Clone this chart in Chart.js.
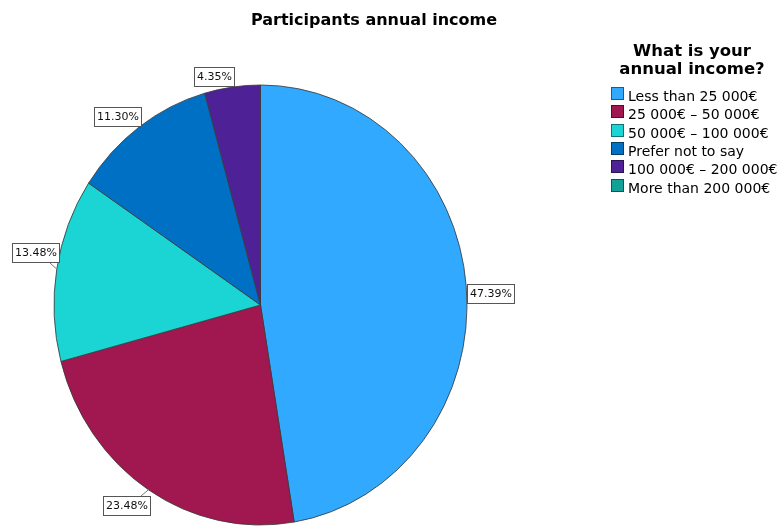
<!DOCTYPE html>
<html>
<head>
<meta charset="utf-8">
<script src="https://cdn.jsdelivr.net/npm/chart.js@4.4.0/dist/chart.umd.min.js"></script>
<style>
  body { margin: 0; background: #fff; }
  canvas { display: block; }
</style>
</head>
<body>
<canvas id="chart" width="781" height="526"></canvas>
<script>
const chartTitle = 'Participants annual income';
const legendTitle = ['What is your', 'annual income?'];
const incomeGroups = ['Less than 25 000€', '25 000€ – 50 000€', '50 000€ – 100 000€', 'Prefer not to say', '100 000€ – 200 000€', 'More than 200 000€'];
const respondents = [109, 54, 31, 26, 10, 0];
const groupColors = ['#30a9fe', '#a1174f', '#1bd4d4', '#0070c4', '#4f2196', '#13a098'];

const FONT = '"DejaVu Sans", sans-serif';
// the pie is drawn a bit taller than wide
const Y_STRETCH = 220 / 206.5;

const stretchPie = {
  id: 'stretchPie',
  beforeDatasetsDraw(chart) {
    const arc = chart.getDatasetMeta(0).data[0];
    const ctx = chart.ctx;
    ctx.save();
    ctx.translate(arc.x, arc.y);
    ctx.scale(1, Y_STRETCH);
    ctx.translate(-arc.x, -arc.y);
  },
  afterDatasetsDraw(chart) {
    chart.ctx.restore();
  }
};

// boxed percentage next to each slice
const sliceLabels = {
  id: 'sliceLabels',
  afterDraw(chart) {
    const ctx = chart.ctx;
    const meta = chart.getDatasetMeta(0);
    const total = respondents.reduce((a, b) => a + b, 0);
    ctx.save();
    ctx.font = '11px ' + FONT;
    ctx.textBaseline = 'middle';
    ctx.textAlign = 'left';
    ctx.lineWidth = 1;
    meta.data.forEach((arc, i) => {
      const value = respondents[i];
      if (!value) return;
      const mid = (arc.startAngle + arc.endAngle) / 2;
      const cos = Math.cos(mid), sin = Math.sin(mid);
      const px = arc.x + arc.outerRadius * cos;
      const py = arc.y + arc.outerRadius * Y_STRETCH * sin;
      const text = (value / total * 100).toFixed(2) + '%';
      const w = Math.round(ctx.measureText(text).width + 6);
      const h = 20;
      const bx = Math.round(cos >= 0 ? px + 1 : px - w + 3);
      let by, edgeY = null;
      if (Math.abs(sin) < 0.15) {
        by = Math.round(py - 3);
      } else if (sin < -0.5) {
        by = Math.round(py - h);
      } else if (sin < 0) {
        by = Math.round(py - h - 6);
        edgeY = by + h;
      } else {
        by = Math.round(py + 6);
        edgeY = by;
      }

      if (edgeY !== null) {
        ctx.strokeStyle = '#777';
        ctx.beginPath();
        ctx.moveTo(px, py);
        ctx.lineTo(cos >= 0 ? bx + 10 : bx + w - 10, edgeY);
        ctx.stroke();
      }
      ctx.fillStyle = '#fff';
      ctx.fillRect(bx, by, w, h);
      ctx.strokeStyle = '#555';
      ctx.strokeRect(bx + 0.5, by + 0.5, w - 1, h - 1);
      ctx.fillStyle = '#111';
      ctx.fillText(text, bx + 3, by + h / 2 + 0.5);
    });
    ctx.restore();
  }
};

// chart title and legend on the right
const titleAndLegend = {
  id: 'titleAndLegend',
  afterDraw(chart) {
    const ctx = chart.ctx;
    const colors = chart.data.datasets[0].backgroundColor;
    ctx.save();
    ctx.fillStyle = '#000';
    ctx.textBaseline = 'alphabetic';
    ctx.textAlign = 'center';
    ctx.font = 'bold 16px ' + FONT;
    ctx.fillText(chartTitle, 374, 25);

    ctx.font = 'bold 16.5px ' + FONT;
    legendTitle.forEach((line, i) => ctx.fillText(line, 692, 56 + i * 17.5));

    ctx.textAlign = 'left';
    ctx.font = '14px ' + FONT;
    ctx.lineWidth = 1;
    chart.data.labels.forEach((label, i) => {
      const top = Math.round(87 + i * 18.3);
      ctx.fillStyle = colors[i];
      ctx.fillRect(611, top, 13, 13);
      ctx.strokeStyle = 'rgba(0,0,0,0.45)';
      ctx.strokeRect(611.5, top + 0.5, 12, 12);
      ctx.fillStyle = '#000';
      ctx.fillText(label, 628, top + 13.5);
    });
    ctx.restore();
  }
};

new Chart(document.getElementById('chart'), {
  type: 'pie',
  data: {
    labels: incomeGroups,
    datasets: [{
      data: respondents,
      backgroundColor: groupColors,
      borderColor: '#3a3a3a',
      borderWidth: 0.8,
      radius: 206.5,
      clip: false
    }]
  },
  options: {
    responsive: false,
    devicePixelRatio: 1,
    animation: false,
    layout: { padding: { left: 0, right: 260, top: 92, bottom: 8 } },
    plugins: {
      legend: { display: false },
      title: { display: false },
      tooltip: { enabled: false }
    }
  },
  plugins: [stretchPie, sliceLabels, titleAndLegend]
});
</script>
</body>
</html>
